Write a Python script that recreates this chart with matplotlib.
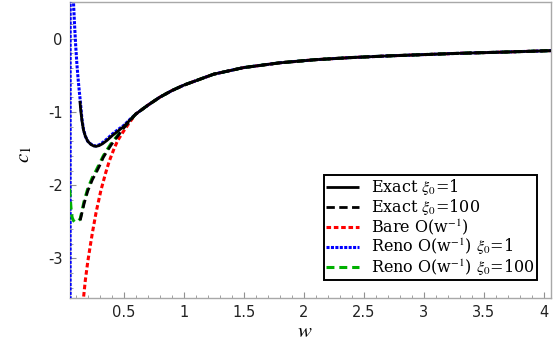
import matplotlib
matplotlib.use("Agg")
import matplotlib.pyplot as plt
from matplotlib.ticker import MultipleLocator

plt.rcParams['axes.unicode_minus'] = False
plt.rcParams['mathtext.fontset'] = 'stix'

# Shared tail (all curves coincide for larger w)
w_tail = [0.6, 0.7, 0.8, 0.9, 1.0, 1.25, 1.5, 1.8, 2.1, 2.4, 2.7, 3.0, 3.3, 3.7, 4.1]
c_tail = [-1.03, -0.91, -0.80, -0.71, -0.635, -0.485, -0.395, -0.33, -0.287, -0.258,
          -0.236, -0.218, -0.20, -0.182, -0.162]

# Exact xi0 = 1
w_ex1 = [0.135, 0.142, 0.152, 0.165, 0.18, 0.20, 0.227, 0.25, 0.27, 0.295, 0.323,
         0.36, 0.407, 0.45, 0.50, 0.55]
c_ex1 = [-0.85, -0.98, -1.12, -1.25, -1.33, -1.40, -1.445, -1.465, -1.47, -1.46,
         -1.435, -1.39, -1.32, -1.265, -1.20, -1.115]

# Exact xi0 = 100
w_ex100 = [0.1375, 0.17, 0.20, 0.24, 0.27, 0.30, 0.33, 0.36, 0.40, 0.45, 0.50, 0.55]
c_ex100 = [-2.48, -2.25, -2.08, -1.92, -1.83, -1.73, -1.62, -1.54, -1.44, -1.33,
           -1.22, -1.125]

# Bare O(w^-1)
w_bare = [0.16, 0.18, 0.20, 0.22, 0.24, 0.27, 0.31, 0.35, 0.38, 0.42, 0.45, 0.50, 0.55]
c_bare = [-3.62, -3.30, -3.05, -2.84, -2.64, -2.37, -2.07, -1.83, -1.67, -1.50,
          -1.39, -1.26, -1.14]

# Reno O(w^-1) xi0 = 1
w_ren1 = [0.0535, 0.0540, 0.060, 0.070, 0.080, 0.090, 0.100, 0.110, 0.120, 0.130,
          0.140, 0.152, 0.165, 0.18, 0.20, 0.227, 0.25, 0.27, 0.295, 0.323, 0.36,
          0.407, 0.45, 0.50, 0.55]
c_ren1 = [-3.8, 3.0, 1.6, 0.95, 0.55, 0.20, -0.10, -0.35, -0.55, -0.72, -0.88,
          -1.10, -1.24, -1.33, -1.40, -1.44, -1.46, -1.465, -1.45, -1.42, -1.37,
          -1.30, -1.245, -1.185, -1.105]

# Reno O(w^-1) xi0 = 100
w_ren100 = [0.050, 0.055, 0.060, 0.065, 0.070, 0.080, 0.090, 0.100, 0.110, 0.120,
            0.1375, 0.17, 0.20, 0.24, 0.27, 0.30, 0.33, 0.36, 0.40, 0.45, 0.50, 0.55]
c_ren100 = [-2.05, -2.18, -2.30, -2.38, -2.44, -2.48, -2.50, -2.50, -2.50, -2.49,
            -2.46, -2.22, -2.05, -1.89, -1.80, -1.70, -1.60, -1.52, -1.42, -1.32,
            -1.21, -1.12]

labels = [r'Exact $\xi_0$=1', r'Exact $\xi_0$=100', r'Bare O(w$^{-1}$)',
          r'Reno O(w$^{-1}$) $\xi_0$=1', r'Reno O(w$^{-1}$) $\xi_0$=100']

fig = plt.figure(figsize=(5.55, 3.51), dpi=100)
ax = fig.add_axes([0.1256, 0.151, 0.8672, 0.8433])

h1, = ax.plot(w_ex1 + w_tail, c_ex1 + c_tail, color='black', lw=2.0, zorder=6,
              solid_capstyle='butt')
h2, = ax.plot(w_ex100 + w_tail, c_ex100 + c_tail, color='black', lw=2.0, zorder=5,
              dashes=(3.0, 1.6))
h3, = ax.plot(w_bare + w_tail, c_bare + c_tail, color='#ff0000', lw=2.2, zorder=2,
              dashes=(1.5, 0.9))
h4, = ax.plot(w_ren1 + w_tail, c_ren1 + c_tail, color='#0000ff', lw=2.2, zorder=3,
              dashes=(1.0, 0.45))
h5, = ax.plot(w_ren100 + w_tail, c_ren100 + c_tail, color='#00b000', lw=2.2, zorder=4,
              dashes=(2.6, 1.6))

ax.set_xlim(0.05, 4.06)
ax.set_ylim(-3.54, 0.5)

ax.xaxis.set_minor_locator(MultipleLocator(0.1))
ax.yaxis.set_minor_locator(MultipleLocator(0.2))
ax.set_xticks([0.5, 1, 1.5, 2, 2.5, 3, 3.5, 4])
ax.set_xticklabels(['0.5', '1', '1.5', '2', '2.5', '3', '3.5', '4'])
ax.set_yticks([0, -1, -2, -3])
ax.set_yticklabels(['0', '-1', '-2', '-3'])

for s in ax.spines.values():
    s.set_color('#a8a8a8')
    s.set_linewidth(1.0)
ax.tick_params(which='both', direction='in', color='#909090', top=False, right=False,
               labelsize=10.5, labelcolor='#222222')
ax.tick_params(which='major', length=4, width=0.8, pad=5)
ax.tick_params(which='minor', length=2.3, width=0.6)

ax.set_xlabel(r'$w$', fontsize=15)
ax.set_ylabel(r'$c_1$', fontsize=15)
ax.xaxis.set_label_coords(0.489, -0.11)
ax.yaxis.set_label_coords(-0.095, 0.485)
ax.xaxis.label.set_verticalalignment('center')
ax.yaxis.label.set_verticalalignment('center')

leg = ax.legend([h1, h2, h3, h4, h5], labels, loc='lower right',
                bbox_to_anchor=(0.9705, 0.0608), borderaxespad=0,
                prop={'family': 'DejaVu Serif', 'size': 11.5},
                fancybox=False, framealpha=1, edgecolor='black',
                handlelength=2.05, handletextpad=0.75, labelspacing=0.0,
                borderpad=0.15)
leg.get_frame().set_linewidth(1.4)
leg.set_zorder(10)

fig.savefig('out.png', dpi=100)
